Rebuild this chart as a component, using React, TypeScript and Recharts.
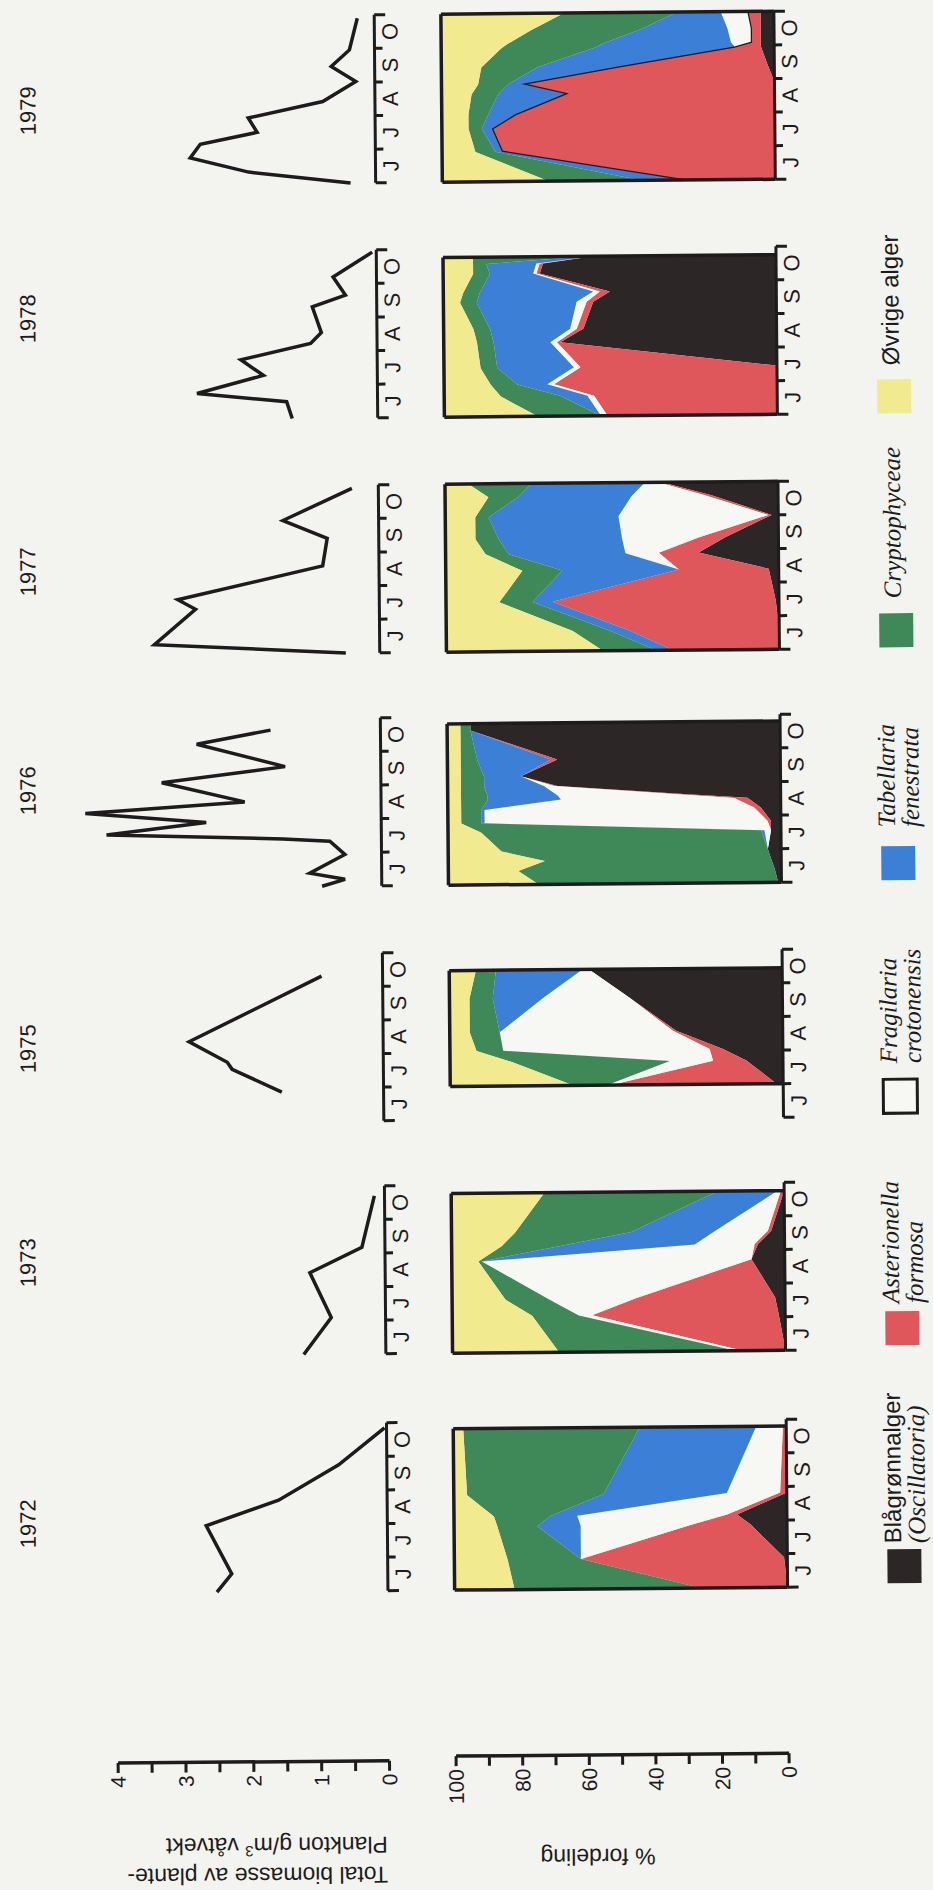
import React from "react";
import { LineChart, Line, AreaChart, Area, XAxis, YAxis, ReferenceLine } from "recharts";

const INK = "#1d1b1c";
const SANS = "'Liberation Sans', Arial, Helvetica, sans-serif";
const SERIF = "'Liberation Serif', 'Times New Roman', serif";

// panels and month letters (x = months after 1 June)
const years = ["1972", "1973", "1975", "1976", "1977", "1978", "1979"];
const months = ["J", "J", "A", "S", "O"];
const monthTicks = [0, 0.5, 1, 1.5, 2, 2.5, 3, 3.5, 4, 4.5, 5];

// algae groups, bottom of the stack first
const groupKeys = ["blagronn", "asterionella", "fragilaria", "tabellaria", "crypto", "ovrige"];
const groupColors = ["#2d2627", "#e0575b", "#f7f7f4", "#3b7fd6", "#3e8957", "#f2ea8e"];
const legendLines = [
  ["Blågrønnalger", "(Oscillatoria)"],
  ["Asterionella", "formosa"],
  ["Fragilaria", "crotonensis"],
  ["Tabellaria", "fenestrata"],
  ["Cryptophyceae"],
  ["Øvrige alger"],
];

const bioTicks = [0, 0.5, 1, 1.5, 2, 2.5, 3, 3.5, 4];
const pctTicks = [0, 10, 20, 30, 40, 50, 60, 70, 80, 90, 100];

// total biomass g/m3: [month, value]
const bio1972 = [[0, 2.52], [0.54, 2.3], [1.98, 2.67], [2.72, 1.6], [3.76, 0.71], [4.85, 0.03]];
const bio1973 = [[0, 1.21], [1.09, 0.8], [2.43, 1.11], [3.17, 0.34], [4.7, 0.15]];
const bio1975 = [[0.88, 1.5], [1.57, 2.23], [1.78, 2.3], [2.4, 2.86], [4.32, 0.9]];
const bio1976 = [[0, 0.88], [0.2, 0.54], [0.39, 1.06], [0.94, 0.54], [1.34, 0.76], [1.42, 1.45], [1.58, 4.05], [1.93, 2.58], [2.23, 4.36], [2.53, 2.01], [3.12, 3.23], [3.57, 1.41], [4.26, 2.71], [4.66, 1.62]];
const bio1977 = [[0, 0.5], [0.3, 3.32], [1.34, 2.71], [1.63, 2.97], [2.6, 0.83], [3.42, 0.76], [3.96, 1.41], [4.9, 0.39]];
const bio1978 = [[0, 1.26], [0.5, 1.34], [0.77, 2.66], [1.29, 1.68], [1.76, 2.01], [2.23, 0.98], [2.55, 0.82], [3.32, 0.95], [3.66, 0.46], [4.2, 0.64], [4.93, 0.06]];
const bio1979 = [[0, 0.37], [0.35, 1.87], [0.79, 2.73], [1.19, 2.58], [1.53, 1.74], [1.96, 1.87], [2.43, 0.77], [3.02, 0.28], [3.47, 0.64], [3.96, 0.37], [4.9, 0.25]];

// % distribution: [month, blågrønn, asterionella, fragilaria, tabellaria, crypto, øvrige]
const pct1972 = [
  [0, 0, 26, 0, 0, 56, 18],
  [0.89, 1, 61, 0, 0, 22, 16],
  [1.88, 11, 18, 33, 13, 12, 13],
  [2.18, 15, 3, 45, 8, 17, 12],
  [2.82, 0, 2, 16, 37, 41, 4],
  [4.8, 0, 1, 8, 35, 53, 3],
];
const pct1973 = [
  [0, 0, 13, 2, 0, 53, 32],
  [1.09, 2, 56, 4, 0, 14, 24],
  [1.58, 3, 42, 26, 0, 13, 16],
  [2.72, 10, 0, 81, 0, 1, 8],
  [3.17, 8, 1, 18, 40, 18, 15],
  [3.56, 4, 1, 16, 25, 35, 19],
  [4.75, 0, 1, 1, 18, 52, 28],
];
const pct1975 = [
  [1.0, 2, 50, 1, 0, 10, 37],
  [1.7, 11, 10, 13, 0, 47, 19],
  [2.05, 18, 4, 62, 0, 8, 8],
  [2.6, 32, 1, 52, 0, 9, 6],
  [3.6, 46, 0, 26, 15, 7, 6],
  [4.45, 58, 0, 2, 26, 6, 8],
];
const pct1976 = [
  [0, 1, 0, 0, 0, 72, 27],
  [0.4, 2, 0, 0, 0, 77, 21],
  [0.69, 3, 0, 0, 0, 68, 29],
  [0.99, 4, 0, 0, 0, 80, 16],
  [1.55, 3, 0, 2, 1, 84, 10],
  [1.83, 3, 1, 85, 1, 6, 4],
  [2.23, 6, 2, 81, 1, 6, 4],
  [2.52, 10, 4, 52, 22, 8, 4],
  [2.64, 28, 2, 37, 21, 8, 4],
  [2.92, 67, 1, 3, 18, 7, 4],
  [3.22, 78, 0, 0, 11, 7, 4],
  [3.71, 67, 2, 0, 22, 5, 4],
  [4.6, 93, 0, 0, 0, 3, 4],
  [4.8, 93, 0, 0, 0, 3, 4],
];
const pct1977 = [
  [0, 0, 32, 0, 5, 16, 47],
  [0.6, 0, 45, 0, 6, 11, 38],
  [1.47, 1, 67, 0, 6, 10, 16],
  [2.4, 3, 27, 0, 35, 12, 23],
  [2.9, 24, 12, 10, 35, 7, 12],
  [3.35, 16, 8, 23, 37, 7, 9],
  [4.0, 2, 1, 45, 39, 4, 9],
  [4.6, 20, 2, 22, 34, 9, 13],
  [5.0, 35, 1, 4, 34, 19, 7],
];
const pct1978 = [
  [0, 0, 51, 2, 0, 19, 28],
  [0.6, 0, 55, 2, 8, 18, 17],
  [0.95, 0, 67, 2, 9, 8, 14],
  [1.45, 0, 59, 2, 23, 5, 11],
  [2.2, 65, 1, 2, 17, 5, 10],
  [2.6, 58, 2, 2, 24, 5, 9],
  [3.4, 55, 2, 3, 30, 5, 5],
  [3.7, 50, 3, 2, 34, 5, 6],
  [4.25, 71, 1, 1, 13, 5, 9],
  [4.55, 70, 1, 1, 15, 4, 9],
  [4.75, 55, 0, 0, 1, 35, 9],
];
const pct1979 = [
  [0, 0, 28, 0, 12, 28, 32],
  [0.89, 0, 82, 0, 2, 6, 10],
  [1.58, 0, 85, 0, 3, 4, 8],
  [2.0, 0, 78, 0, 8, 6, 8],
  [2.6, 0, 63, 0, 20, 8, 9],
  [2.9, 0, 76, 0, 4, 9, 11],
  [3.4, 2, 45, 0, 24, 17, 12],
  [3.96, 4, 8, 0, 42, 28, 18],
  [4.1, 4, 3, 6, 38, 29, 20],
  [4.5, 4, 3, 7, 26, 33, 27],
  [5.0, 4, 4, 8, 13, 34, 37],
];

const bioByPanel = [bio1972, bio1973, bio1975, bio1976, bio1977, bio1978, bio1979];
const pctByPanel = [pct1972, pct1973, pct1975, pct1976, pct1977, pct1978, pct1979];

// layout, in the unrotated frame (1890 x 933)
const PANEL_X = [300, 537, 770, 1005, 1238, 1473, 1708];
const PANEL_W = 168;
const YEAR_X = [370, 631, 845, 1103, 1322, 1575, 1783];
const YEAR_Y = [30.5, 32.7, 34.6, 36.8, 38.7, 40.9, 42.8];
const RED_EDGE = [false, false, false, false, false, false, true];
const BIO_BASE = 382;
const BIO_UNIT = 67.85;
const BIO_MAX = 4.5;
const PCT_TOP = 449;
const PCT_BASE = 782;
const SWATCH_X = [303, 541, 773, 1006, 1239, 1473];
const LEGEND_TEXT_X = [343, 583, 823, 1059, 1288, 1521];
const PAD = 20;

function MonthTick(props: any) {
  const { x, y, payload } = props;
  const v = Number(payload.value);
  if (Number.isInteger(v)) {
    const len = v === 0 || v === 5 ? 11 : 8;
    return <line x1={x} x2={x} y1={y} y2={y + len} stroke={INK} strokeWidth={3} />;
  }
  return (
    <text x={x} y={y + 23} textAnchor="middle" fontSize={22} fontFamily={SANS} fill={INK}>
      {months[Math.floor(v)]}
    </text>
  );
}

function monthAxis() {
  return (
    <XAxis
      dataKey="t"
      type="number"
      domain={[0, 5]}
      ticks={monthTicks}
      interval={0}
      height={30}
      tickSize={0}
      tickMargin={0}
      tickLine={false}
      axisLine={{ stroke: INK, strokeWidth: 3 }}
      tick={<MonthTick />}
    />
  );
}

function Panel({ idx }: { idx: number }) {
  const x0 = PANEL_X[idx];
  const bio = bioByPanel[idx].map(([t, v]) => ({ t, v }));
  const pct = pctByPanel[idx].map((r) => {
    const row: Record<string, number> = { t: r[0] };
    groupKeys.forEach((k, j) => {
      row[k] = r[j + 1];
    });
    return row;
  });
  const tFirst = pct[0].t;
  const tLast = pct[pct.length - 1].t;
  const bioTop = BIO_BASE - BIO_MAX * BIO_UNIT;

  const strokeFor = (j: number) => {
    if (j === groupKeys.length - 1) return INK;
    if (j === 1 && RED_EDGE[idx]) return INK;
    return "none";
  };

  return (
    <>
      <div style={{ position: "absolute", left: x0 - PAD, top: bioTop - PAD }}>
        <LineChart
          width={PANEL_W + 2 * PAD}
          height={BIO_BASE - bioTop + PAD + 40}
          data={bio}
          margin={{ top: PAD, right: PAD, bottom: 10, left: PAD }}
        >
          <YAxis hide type="number" domain={[0, BIO_MAX]} />
          <Line dataKey="v" type="linear" stroke={INK} strokeWidth={3.5} dot={false} activeDot={false} isAnimationActive={false} />
          {monthAxis()}
        </LineChart>
      </div>
      <div style={{ position: "absolute", left: x0 - PAD, top: PCT_TOP - PAD }}>
        <AreaChart
          width={PANEL_W + 2 * PAD}
          height={PCT_BASE - PCT_TOP + PAD + 40}
          data={pct}
          margin={{ top: PAD, right: PAD, bottom: 10, left: PAD }}
        >
          <YAxis hide type="number" domain={[0, 100]} />
          {groupKeys.map((k, j) => (
            <Area
              key={k}
              dataKey={k}
              stackId="p"
              type="linear"
              fill={groupColors[j]}
              fillOpacity={1}
              stroke={strokeFor(j)}
              strokeWidth={j === 1 ? 2.5 : 3.5}
              dot={false}
              activeDot={false}
              isAnimationActive={false}
            />
          ))}
          <ReferenceLine x={tFirst} stroke={INK} strokeWidth={3.5} />
          <ReferenceLine x={tLast} stroke={INK} strokeWidth={3.5} />
          {monthAxis()}
        </AreaChart>
      </div>
    </>
  );
}

function LeftAxes() {
  const bioTop4 = BIO_BASE - 4 * BIO_UNIT;
  return (
    <>
      <div style={{ position: "absolute", left: 0, top: bioTop4 - PAD }}>
        <LineChart
          width={150}
          height={BIO_BASE - bioTop4 + PAD + 40}
          data={bioTicks.map((v, i) => ({ t: i, v }))}
          margin={{ top: PAD, right: 10, bottom: 40, left: 0 }}
        >
          <XAxis dataKey="t" type="number" hide />
          <YAxis
            width={130}
            type="number"
            domain={[0, 4]}
            ticks={bioTicks}
            interval={0}
            tickSize={10}
            tickMargin={3}
            axisLine={{ stroke: INK, strokeWidth: 3.5 }}
            tickLine={{ stroke: INK, strokeWidth: 3 }}
            tick={{ fontSize: 21, fill: INK, fontFamily: SANS }}
            tickFormatter={(v: number) => (Number.isInteger(v) ? String(v) : "")}
          />
          <Line dataKey="v" stroke="none" dot={false} activeDot={false} isAnimationActive={false} />
        </LineChart>
      </div>
      <div style={{ position: "absolute", left: 0, top: PCT_TOP - PAD }}>
        <LineChart
          width={160}
          height={PCT_BASE - PCT_TOP + PAD + 40}
          data={pctTicks.map((v, i) => ({ t: i, v }))}
          margin={{ top: PAD, right: 16, bottom: 40, left: 0 }}
        >
          <XAxis dataKey="t" type="number" hide />
          <YAxis
            width={134}
            type="number"
            domain={[0, 100]}
            ticks={pctTicks}
            interval={0}
            tickSize={10}
            tickMargin={3}
            axisLine={{ stroke: INK, strokeWidth: 3.5 }}
            tickLine={{ stroke: INK, strokeWidth: 3 }}
            tick={{ fontSize: 21, fill: INK, fontFamily: SANS }}
            tickFormatter={(v: number) => (v % 20 === 0 ? String(v) : "")}
          />
          <Line dataKey="v" stroke="none" dot={false} activeDot={false} isAnimationActive={false} />
        </LineChart>
      </div>
    </>
  );
}

function Texts() {
  return (
    <svg width={1890} height={933} style={{ position: "absolute", left: 0, top: 0, pointerEvents: "none" }}>
      {years.map((y, i) => (
        <text key={y} x={YEAR_X[i]} y={YEAR_Y[i]} textAnchor="middle" fontSize={22} fontFamily={SANS} fill={INK}>
          {y}
        </text>
      ))}
      <g fontFamily={SANS} fontSize={23} fill={INK}>
        <text transform="translate(24 380) rotate(-90)">Total biomasse av plante-</text>
        <text transform="translate(54 380) rotate(-90)">
          <tspan>Plankton g/m</tspan>
          <tspan dy={-8} fontSize={15}>3</tspan>
          <tspan dy={8}> våtvekt</tspan>
        </text>
        <text transform="translate(40 590) rotate(-90)" textAnchor="middle">% fordeling</text>
      </g>
      {legendLines.map((lines, k) => {
        const sans = (line: string) => line === "Blågrønnalger" || line === "Øvrige alger";
        const baselines = lines.length === 2 ? [896, 920] : [904];
        return (
          <g key={k}>
            <rect
              x={SWATCH_X[k]}
              y={882}
              width={34}
              height={34}
              fill={groupColors[k]}
              stroke={k === 2 ? INK : "none"}
              strokeWidth={3}
            />
            {lines.map((line, j) => (
              <text
                key={line}
                x={LEGEND_TEXT_X[k]}
                y={baselines[j]}
                fontSize={sans(line) ? 24 : 25}
                fontFamily={sans(line) ? SANS : SERIF}
                fontStyle={sans(line) ? "normal" : "italic"}
                fill={INK}
              >
                {line}
              </text>
            ))}
          </g>
        );
      })}
    </svg>
  );
}

export default function App() {
  return (
    <div style={{ position: "absolute", left: 0, top: 0, width: 933, height: 1890, background: "#f3f3f0", overflow: "hidden" }}>
      <div style={{ position: "absolute", left: 0, top: 0, width: 933, height: 1890, transform: "rotate(-0.5deg)", transformOrigin: "466px 945px" }}>
        <div
          style={{
            position: "absolute",
            left: 0,
            top: 0,
            width: 1890,
            height: 933,
            transform: "translateY(1890px) rotate(-90deg)",
            transformOrigin: "0 0",
          }}
        >
          <LeftAxes />
          {years.map((y, i) => (
            <Panel key={y} idx={i} />
          ))}
          <Texts />
        </div>
      </div>
    </div>
  );
}
